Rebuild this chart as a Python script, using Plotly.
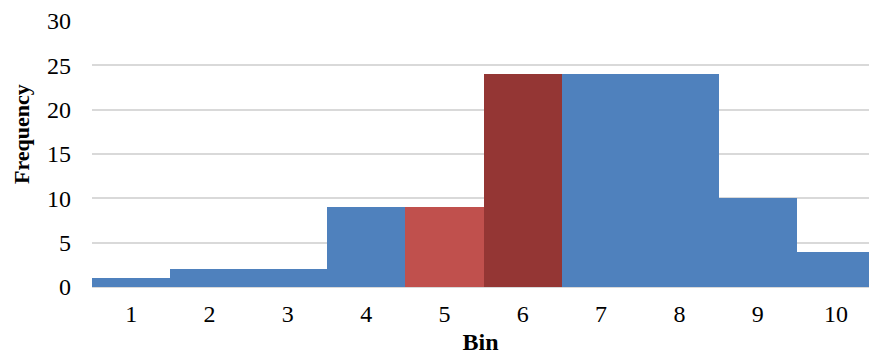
import plotly.graph_objects as go

bins = ["1", "2", "3", "4", "5", "6", "7", "8", "9", "10"]
freq = [1, 2, 2, 9, 9, 24, 24, 24, 10, 4]
colors = ["#4F81BD", "#4F81BD", "#4F81BD", "#4F81BD", "#C0504D",
          "#943634", "#4F81BD", "#4F81BD", "#4F81BD", "#4F81BD"]
y_ticks = [0, 5, 10, 15, 20, 25, 30]

font = "Liberation Serif, Times New Roman, serif"

fig = go.Figure(go.Bar(
    x=bins, y=freq,
    marker=dict(color=colors, line=dict(width=0)),
    hoverinfo="x+y",
))

fig.update_layout(
    width=869, height=355,
    margin=dict(l=92, r=0, t=21, b=68),
    paper_bgcolor="white", plot_bgcolor="white",
    bargap=0,
    showlegend=False,
    font=dict(family=font, size=24, color="black"),
    annotations=[dict(
        text="<b>Frequency</b>", textangle=-90,
        xref="paper", yref="paper", x=0, y=0.575,
        xanchor="center", yanchor="middle", xshift=-71,
        showarrow=False, font=dict(family=font, size=22, color="black"),
    )],
)
fig.update_xaxes(
    type="category",
    range=[-0.5, 9.42],
    showgrid=False,
    showline=False,
    ticks="",
    ticklabelstandoff=10,
    tickfont=dict(family=font, size=24),
    title=dict(text="<b>Bin</b>", font=dict(family=font, size=24), standoff=11),
)
fig.update_yaxes(
    range=[0, 30],
    tickvals=y_ticks,
    showgrid=True, gridcolor="#D9D9D9", gridwidth=2,
    zeroline=True, zerolinecolor="#D9D9D9", zerolinewidth=2,
    showline=False,
    ticks="",
    ticklabelstandoff=20,
    tickfont=dict(family=font, size=24),
)

fig.write_html("out.html", config={"displayModeBar": False},
               post_script="document.body.style.margin='0';document.body.style.overflow='hidden';")
